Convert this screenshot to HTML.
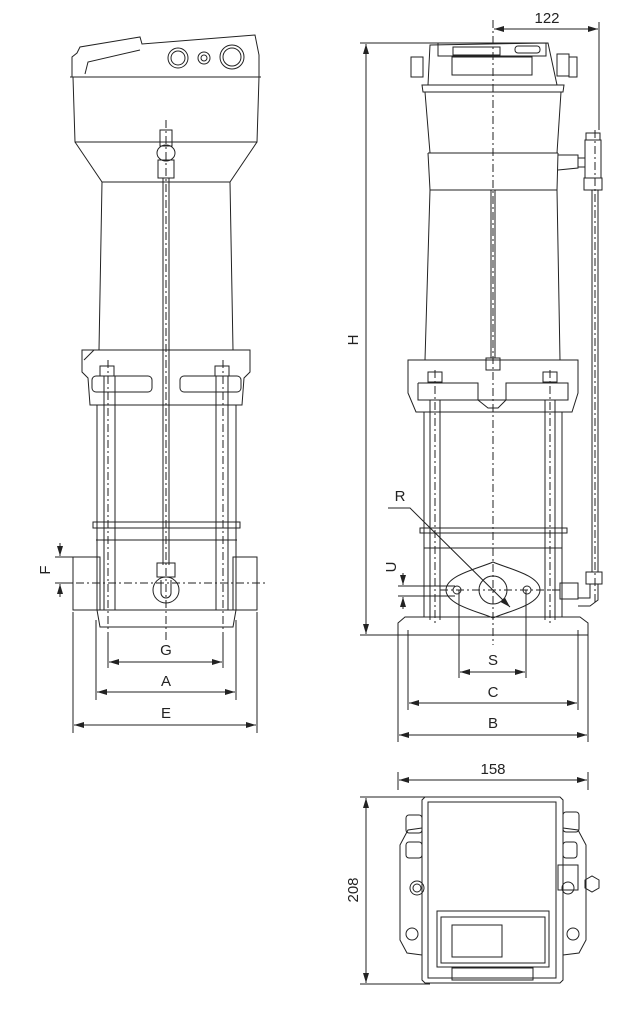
<!DOCTYPE html>
<html><head><meta charset="utf-8"><style>
html,body{margin:0;padding:0;background:#fff}
svg{display:block}
text{font-family:"Liberation Sans",sans-serif;font-size:15px;fill:#222}
</style></head><body>
<svg width="628" height="1012" viewBox="0 0 628 1012" xmlns="http://www.w3.org/2000/svg">
<defs>
<marker id="a" viewBox="0 0 10 6" refX="10" refY="3" markerWidth="10" markerHeight="6" orient="auto-start-reverse"><path d="M0,0L10,3L0,6z" fill="#222"/></marker>
</defs>
<g fill="none" stroke="#222" stroke-width="1">
<!-- LEFT VIEW -->
<path d="M77,53 L80,47 L140,37 L142,44 L255,35 L259,55 L259,77 L72,77 L72,57 Z"/>
<path d="M85,74 L88,62 L140,50"/>
<circle cx="178" cy="58" r="10"/><circle cx="178" cy="58" r="7"/>
<circle cx="204" cy="58" r="6"/><circle cx="204" cy="58" r="3"/>
<circle cx="232" cy="57" r="12"/><circle cx="232" cy="57" r="9"/>
<path d="M70,77 L261,77 M73,77 L75,142 L257,142 L259,77"/>
<path d="M75,142 L102,182 L230,182 L257,142"/>
<path d="M102,182 L99,350 M230,182 L233,350"/>
<rect x="160" y="130" width="12" height="16"/><ellipse cx="166" cy="153" rx="9" ry="8"/><rect x="158" y="160" width="16" height="18"/>
<path d="M163,178 L163,565 M169,178 L169,565"/>
<path d="M82,350 L250,350 L250,372 L244,378 L242,405 L90,405 L88,378 L82,372 Z M94,350 L84,360"/>
<rect x="92" y="376" width="60" height="16" rx="4"/><rect x="180" y="376" width="61" height="16" rx="4"/>
<rect x="100" y="366" width="14" height="10"/><rect x="215" y="366" width="14" height="10"/>
<path d="M97,405 L97,610 M236,405 L236,610 M104,376 L104,610 M115,376 L115,610 M216,376 L216,610 M228,376 L228,610"/>
<path d="M93,522 L240,522 L240,528 L93,528 Z M96,540 L237,540"/>
<path d="M73,557 L100,557 L100,610 L73,610 Z M233,557 L257,557 L257,610 L233,610 Z"/>
<path d="M97,610 L236,610 L233,627 L100,627 Z"/>
<rect x="157" y="563" width="18" height="14"/>
<circle cx="166" cy="590" r="13"/><path d="M161,580 L161,593 A5,5 0 0 0 171,593 L171,580"/>
<g stroke-dasharray="8,3,2,3"><path d="M166,120 L166,640 M108,360 L108,640 M223,360 L223,640 M60,583 L265,583"/></g>
<!-- dims left -->
<path d="M108,640 L108,668 M223,640 L223,668 M96,620 L96,700 M236,620 L236,700 M73,612 L73,733 M257,612 L257,733"/>
<path d="M109,662 L222,662" marker-start="url(#a)" marker-end="url(#a)"/>
<path d="M97,692 L235,692" marker-start="url(#a)" marker-end="url(#a)"/>
<path d="M74,725 L256,725" marker-start="url(#a)" marker-end="url(#a)"/>
<path d="M55,557 L73,557 M55,583 L73,583"/>
<path d="M60,543 L60,556" marker-end="url(#a)"/><path d="M60,597 L60,584" marker-end="url(#a)"/>
<!-- RIGHT VIEW -->
<path d="M428,85 L430,45 L548,43 L557,85"/>
<rect x="438" y="43" width="108" height="13"/><rect x="453" y="47" width="47" height="8"/><rect x="515" y="46" width="25" height="7" rx="3"/>
<rect x="452" y="57" width="80" height="18"/>
<rect x="411" y="57" width="12" height="20"/><rect x="557" y="54" width="12" height="22"/><rect x="569" y="57" width="8" height="20"/>
<path d="M422,85 L564,85 L563,92 L423,92 Z M425,92 L430,153 M561,92 L557,153"/>
<path d="M428,153 L558,153 M428,153 L430,190 L557,190 L558,153"/>
<path d="M558,155 L578,155 L578,168 L558,170"/>
<path d="M430,190 L425,360 M557,190 L560,360"/>
<path d="M491,190 L491,358 M495,190 L495,358"/>
<path d="M586,133 L600,133 L600,140 L586,140 Z M585,140 L601,140 L601,178 L585,178 Z M584,178 L602,178 L602,190 L584,190 Z"/>
<path d="M578,158 L585,158 M578,167 L585,167"/>
<path d="M592,190 L592,572 M598,190 L598,572"/>
<path d="M408,360 L578,360 L578,393 L572,412 L416,412 L408,393 Z"/>
<path d="M418,383 L478,383 L478,400 M506,400 L506,383 L568,383 L568,400 L418,400 L418,383 M478,400 L488,408 L498,408 L506,400"/>
<rect x="486" y="358" width="14" height="12"/>
<rect x="428" y="372" width="14" height="10"/><rect x="543" y="372" width="14" height="10"/>
<path d="M424,412 L424,617 M562,412 L562,617 M430,400 L430,620 M440,400 L440,620 M545,400 L545,620 M555,400 L555,620"/>
<path d="M420,528 L567,528 L567,533 L420,533 Z M424,548 L562,548"/>
<path d="M446,590 C446,575 480,568 493,562 C506,568 540,575 540,590 C540,605 506,612 493,618 C480,612 446,605 446,590 Z"/>
<circle cx="493" cy="590" r="14"/><circle cx="457" cy="590" r="4"/><circle cx="527" cy="590" r="4"/>
<rect x="560" y="583" width="18" height="16"/>
<path d="M586,572 L602,572 L602,584 L586,584 Z M590,584 L590,598 L578,598 M598,584 L598,600 L590,606 L578,606"/>
<path d="M398,623 L405,617 L580,617 L588,623 L588,635 L398,635 Z"/>
<g stroke-dasharray="8,3,2,3"><path d="M493,20 L493,645 M435,370 L435,625 M550,370 L550,625 M595,130 L595,605 M440,590 L560,590"/></g>
<!-- dims right -->
<path d="M599,22 L599,130"/>
<path d="M494,29 L598,29" marker-start="url(#a)" marker-end="url(#a)"/>
<path d="M360,43 L465,43 M360,635 L465,635"/>
<path d="M366,44 L366,634" marker-start="url(#a)" marker-end="url(#a)"/>
<path d="M459,590 L459,678 M526,590 L526,678 M408,630 L408,710 M578,630 L578,710 M398,630 L398,742 M588,630 L588,742"/>
<path d="M460,672 L525,672" marker-start="url(#a)" marker-end="url(#a)"/>
<path d="M409,703 L577,703" marker-start="url(#a)" marker-end="url(#a)"/>
<path d="M399,735 L587,735" marker-start="url(#a)" marker-end="url(#a)"/>
<path d="M398,586 L455,586 M398,596 L455,596"/>
<path d="M403,573 L403,585" marker-end="url(#a)"/><path d="M403,609 L403,597" marker-end="url(#a)"/>
<path d="M388,508 L410,508 L510,607" marker-end="url(#a)"/>
<!-- TOP VIEW -->
<path d="M398,772 L398,790 M588,772 L588,790"/>
<path d="M399,780 L587,780" marker-start="url(#a)" marker-end="url(#a)"/>
<path d="M360,797 L430,797 M360,984 L430,984"/>
<path d="M366,798 L366,983" marker-start="url(#a)" marker-end="url(#a)"/>
<path d="M422,800 L425,797 L560,797 L563,800 L563,980 L560,983 L425,983 L422,980 Z"/>
<path d="M428,802 L556,802 L556,978 L428,978 Z"/>
<path d="M422,828 L408,830 L400,845 L400,940 L407,953 L422,955 M563,828 L578,830 L586,845 L586,940 L579,953 L563,955"/>
<rect x="406" y="815" width="16" height="18" rx="3"/><rect x="406" y="842" width="16" height="16" rx="3"/>
<rect x="563" y="812" width="16" height="20" rx="3"/><rect x="563" y="842" width="14" height="16" rx="3"/>
<rect x="558" y="865" width="20" height="25"/>
<circle cx="417" cy="888" r="7"/><circle cx="417" cy="888" r="4"/>
<circle cx="568" cy="888" r="6"/>
<path d="M585,880 L592,876 L599,880 L599,888 L592,892 L585,888 Z"/>
<circle cx="412" cy="934" r="6"/><circle cx="573" cy="934" r="6"/>
<rect x="437" y="911" width="112" height="56"/>
<rect x="441" y="917" width="104" height="46"/>
<rect x="452" y="925" width="50" height="32"/>
<rect x="452" y="968" width="81" height="12"/>
</g>
<g>
<text x="166" y="655" text-anchor="middle">G</text>
<text x="166" y="686" text-anchor="middle">A</text>
<text x="166" y="718" text-anchor="middle">E</text>
<text x="0" y="0" text-anchor="middle" transform="translate(50,570) rotate(-90)">F</text>
<text x="547" y="23" text-anchor="middle">122</text>
<text x="0" y="0" text-anchor="middle" transform="translate(358,340) rotate(-90)">H</text>
<text x="400" y="501" text-anchor="middle">R</text>
<text x="0" y="0" text-anchor="middle" transform="translate(396,567) rotate(-90)">U</text>
<text x="493" y="665" text-anchor="middle">S</text>
<text x="493" y="697" text-anchor="middle">C</text>
<text x="493" y="728" text-anchor="middle">B</text>
<text x="493" y="774" text-anchor="middle">158</text>
<text x="0" y="0" text-anchor="middle" transform="translate(358,890) rotate(-90)">208</text>
</g>
</svg>
</body></html>
